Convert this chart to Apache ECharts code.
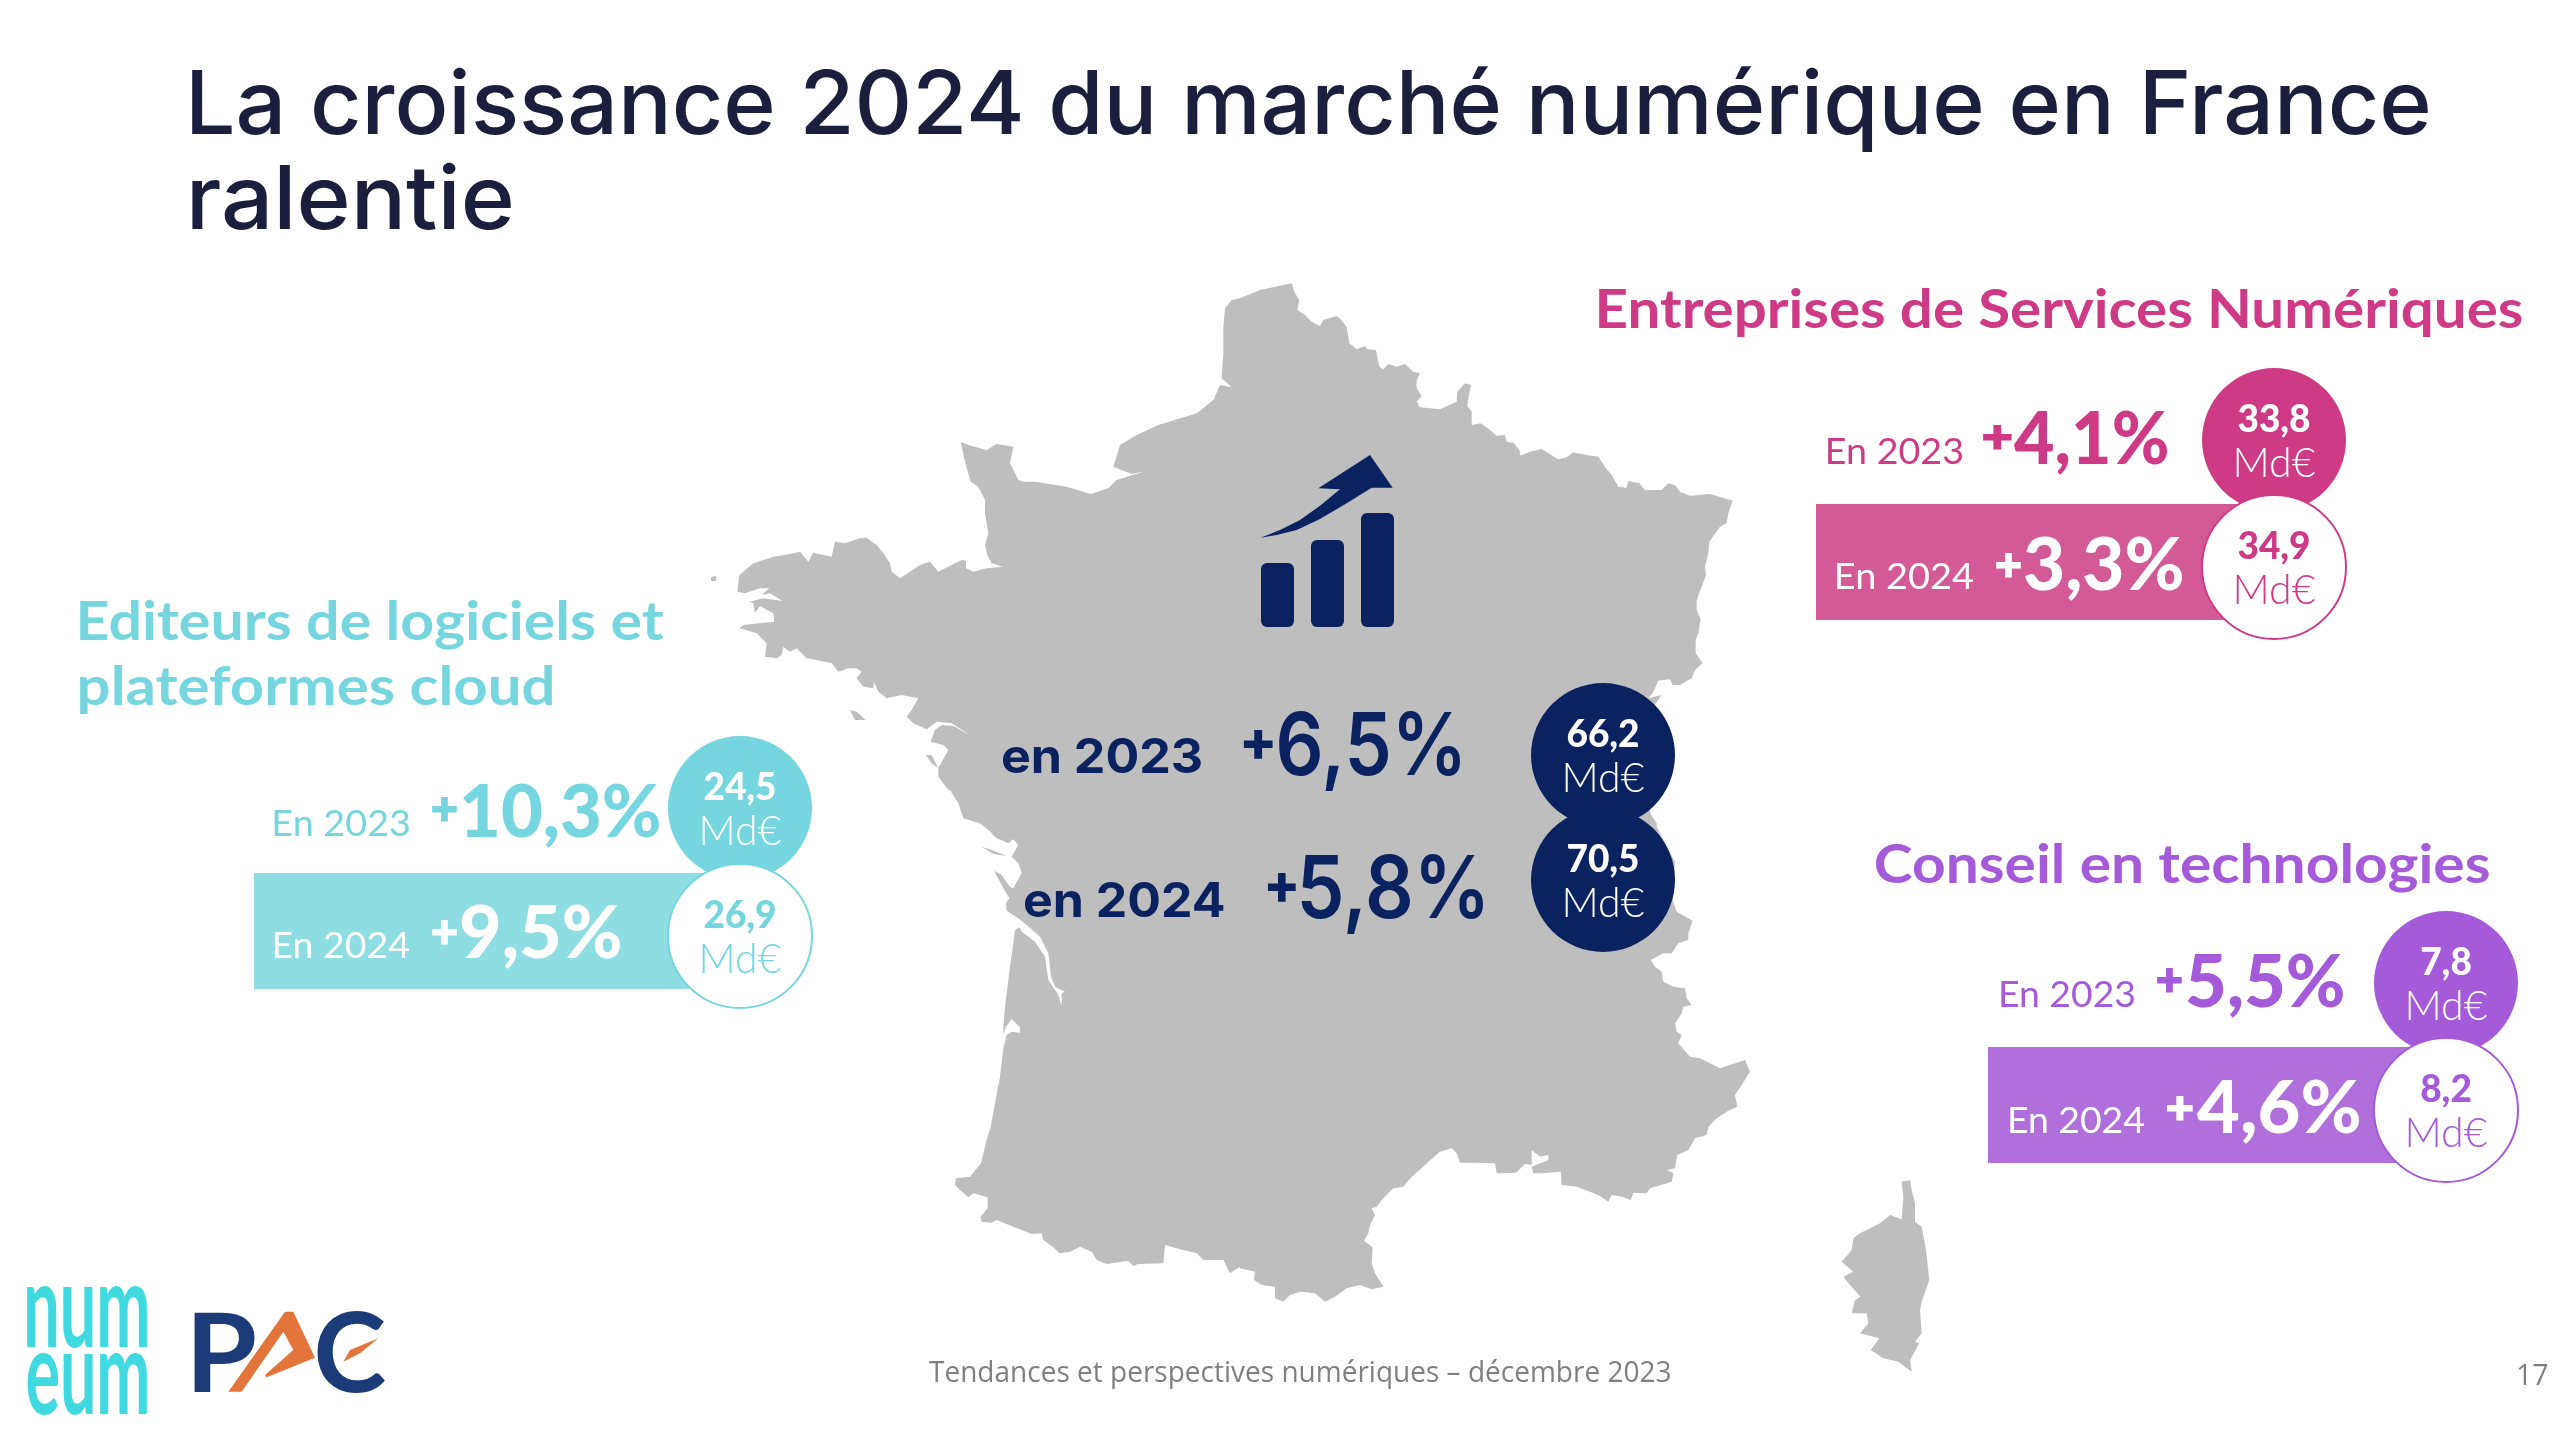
<!DOCTYPE html>
<html lang="fr"><head><meta charset="utf-8"><title>Marché numérique France 2024</title>
<style>html,body{margin:0;padding:0;background:#fff}#c{width:2560px;height:1431px}</style>
<script src="https://cdn.jsdelivr.net/npm/echarts@6/dist/echarts.min.js"></script></head>
<body><div id="c"></div><script>
// ---------- values ----------
const pageTitle = ['La croissance 2024 du marché numérique en France', 'ralentie'];
const segmentTitles = [['Editeurs de logiciels et', 'plateformes cloud'], ['Entreprises de Services Numériques'], ['Conseil en technologies']];
const growth2023 = [10.3, 4.1, 5.5];
const growth2024 = [9.5, 3.3, 4.6];
const amount2023 = [24.5, 33.8, 7.8];
const amount2024 = [26.9, 34.9, 8.2];
const totalGrowth = [6.5, 5.8];
const totalAmount = [66.2, 70.5];
const yearLabels = ['En 2023', 'En 2024'];
const totalYearLabels = ['en 2023', 'en 2024'];
const unitLabel = 'Md€';
const footerText = 'Tendances et perspectives numériques – décembre 2023';
const pageNumber = '17';

// ---------- France outline (quadrant crops, 3x) ----------
const coastNE = [[0,85],[60,60],[155,40],[165,70],[178,90],[172,120],[195,135],[215,155],[240,168],[250,150],[290,138],[305,150],[320,172],[328,220],[350,238],[375,228],[382,238],[408,240],[418,290],[430,298],[445,282],[470,290],[495,282],[520,305],[540,310],[530,330],[530,355],[545,378],[530,395],[540,412],[600,418],[650,395],[652,365],[675,340],[693,345],[685,385],[682,408],[695,425],[695,465],[722,460],[750,480],[770,497],[795,495],[800,515],[820,518],[838,540],[842,557],[870,545],[905,537],[925,550],[955,568],[980,562],[1000,547],[1040,555],[1075,560],[1095,590],[1115,615],[1135,650],[1160,653],[1165,633],[1198,640],[1215,660],[1265,660],[1285,640],[1305,645],[1320,665],[1350,677],[1410,672],[1478,692],[1465,730],[1460,760],[1440,770],[1408,815],[1405,850],[1395,890],[1398,915],[1385,950],[1370,990],[1370,1020],[1382,1048],[1375,1090],[1367,1110],[1367,1150],[1388,1180],[1365,1200],[1355,1225],[1320,1245],[1298,1245],[1290,1228],[1255,1232],[1240,1265],[1225,1285],[1265,1275],[1240,1310],[1235,1400]];
const coastSE = [[1230,70],[1250,100],[1250,110],[1290,190],[1305,215],[1298,330],[1310,365],[1358,392],[1345,430],[1345,450],[1315,460],[1295,490],[1270,490],[1232,510],[1245,530],[1265,545],[1270,575],[1300,590],[1335,595],[1340,625],[1355,645],[1330,650],[1325,670],[1305,700],[1310,725],[1325,735],[1315,760],[1350,800],[1380,805],[1440,835],[1515,810],[1530,845],[1505,885],[1485,915],[1492,950],[1465,962],[1430,985],[1405,1010],[1400,1035],[1365,1045],[1345,1080],[1312,1095],[1305,1135],[1280,1140],[1300,1150],[1295,1175],[1230,1195],[1220,1210],[1180,1208],[1172,1230],[1145,1220],[1115,1215],[1105,1235],[1080,1218],[1050,1205],[1010,1190],[965,1185],[962,1145],[905,1150],[880,1150],[875,1130],[925,1110],[925,1095],[900,1100],[875,1080],[875,1125],[855,1122],[828,1148],[770,1150],[765,1120],[700,1118],[660,1118],[650,1090],[635,1075],[600,1085],[565,1115],[545,1135],[515,1160],[490,1190],[460,1195],[430,1225],[410,1250],[395,1255],[405,1275],[390,1305],[385,1330],[372,1352],[398,1372],[395,1420],[405,1450],[430,1490],[395,1498],[360,1485],[320,1495],[285,1520],[255,1535],[225,1510],[180,1505],[150,1515],[130,1535],[105,1525],[105,1490],[65,1485],[42,1470],[45,1445],[0,1435]];
const coastSW = [[1560,1430],[1530,1450],[1510,1410],[1450,1410],[1430,1390],[1380,1378],[1335,1365],[1330,1420],[1255,1422],[1240,1428],[1225,1412],[1160,1422],[1130,1410],[1115,1385],[1080,1370],[1050,1385],[1018,1390],[1000,1372],[970,1350],[965,1330],[935,1332],[880,1310],[830,1290],[815,1298],[785,1295],[782,1280],[803,1255],[803,1222],[760,1210],[745,1222],[720,1200],[705,1185],[708,1165],[750,1160],[783,1120],[800,1050],[812,1010],[840,860],[850,775],[860,735],[875,725],[900,728],[900,712],[875,688],[858,710],[848,735],[855,650],[870,530],[882,445],[885,420],[900,412],[905,425],[945,455],[975,500],[985,570],[1015,615],[1025,648],[1025,610],[1035,605],[1005,590],[993,560],[985,490],[960,440],[920,405],[895,385],[860,362],[858,340],[868,325],[845,285],[822,242],[845,255],[870,290],[880,295],[905,250],[895,220],[875,200],[895,165],[880,148],[865,160],[830,145],[805,120],[780,100],[730,85],[715,40],[690,0]];
const coastNW = [[685,1560],[655,1520],[655,1495],[685,1440],[670,1425],[632,1415],[645,1380],[665,1365],[700,1368],[750,1395],[695,1360],[650,1355],[620,1378],[580,1360],[560,1340],[575,1320],[595,1285],[545,1275],[500,1285],[475,1265],[462,1235],[460,1255],[430,1250],[410,1225],[425,1205],[410,1195],[385,1195],[355,1205],[335,1180],[280,1168],[260,1165],[230,1135],[210,1145],[190,1130],[185,1155],[170,1165],[135,1160],[140,1120],[110,1090],[58,1075],[70,1065],[163,1055],[160,1030],[120,1008],[105,1028],[100,1000],[88,995],[130,985],[188,993],[150,970],[125,975],[148,955],[120,955],[75,970],[52,965],[58,915],[100,880],[160,860],[195,855],[240,845],[265,875],[280,848],[335,860],[345,815],[375,820],[420,805],[440,803],[470,825],[490,850],[510,880],[515,905],[540,925],[570,905],[600,885],[630,875],[655,905],[695,885],[725,870],[738,872],[738,895],[760,905],[800,895],[848,890],[815,880],[802,855],[795,825],[805,790],[795,730],[795,690],[775,650],[752,635],[735,575],[722,515],[745,525],[800,540],[830,522],[880,530],[870,580],[895,630],[910,635],[945,635],[1040,650],[1112,672],[1165,655],[1190,630],[1270,605],[1235,612],[1180,590],[1200,525],[1250,495],[1315,465],[1430,430],[1480,390],[1500,345],[1535,352],[1505,325],[1510,250],[1510,170],[1515,115],[1535,90],[1560,85]];
const corsica = [[245,35],[270,30],[275,60],[285,100],[285,155],[305,170],[318,240],[328,330],[305,395],[300,420],[305,490],[285,515],[298,520],[270,570],[275,605],[235,575],[190,565],[152,540],[178,505],[120,490],[145,460],[140,430],[95,430],[105,390],[122,380],[90,345],[70,320],[100,305],[65,275],[95,240],[100,205],[120,190],[180,160],[210,135],[245,148],[250,80]];
const belleIle = [[390,1320],[410,1325],[437,1350],[405,1350]];
const noirmoutier = [[617,1455],[635,1455],[655,1495],[635,1480]];
const ile_de_re = [[785,170],[815,180],[860,198],[820,192]];
const ouessant = [[711,577],[716,576],[716,581],[711,581]];

const fromCrop = (pts, ox, oy) => pts.map(p => [ox + p[0] / 3, -(oy + p[1] / 3)]);
const franceGeo = { type: 'FeatureCollection', features: [{ type: 'Feature', properties: { name: 'France' }, geometry: { type: 'MultiPolygon', coordinates: [
  [[...fromCrop(coastNE, 1240, 270), ...fromCrop(coastSE, 1240, 790), ...fromCrop(coastSW, 720, 790), ...fromCrop(coastNW, 720, 270)]],
  [fromCrop(corsica, 1820, 1170)], [fromCrop(belleIle, 720, 270)], [fromCrop(noirmoutier, 720, 270)],
  [fromCrop(ile_de_re, 720, 790)], [ouessant.map(p => [p[0], -p[1]])]
] } }] };
echarts.registerMap('france', franceGeo);

// ---------- layout & style ----------
const W = 2560, H = 1431;
const navy = '#0B2260', titleInk = '#1B1F3D';
const segColor = ['#76D6DF', '#CF3A87', '#A55AD9'];
const bandColor = ['#8EDDE3', '#D45A97', '#B16FDC'];
const circleX = [740, 2274, 2446], circleY23 = [808, 440, 983], circleY24 = [936, 567, 1110];
const totalCircleX = 1603, totalCircleY = [755, 880];
const bandBox = [[254, 873, 989], [1816, 504, 620], [1988, 1047, 1163]];
const titleBox = [[[80, 664, 640], [80, 552, 705]], [[1599, 2522, 328]], [[1876, 2489, 883]]];
const yearBox23 = [[274.5, 409, 836], [1828, 1962, 464], [2001, 2134, 1007]];
const yearBox24 = [[274.5, 409, 958], [1837, 1973, 589], [2010, 2144, 1133]];
const plusBox23 = [[432, 457, 809], [1983, 2012, 437], [2157, 2182, 980]];
const plusBox24 = [[432, 457, 932], [1996, 2021, 565], [2167, 2193, 1108]];
const rateBox23 = [[463, 659, 837], [2014, 2167, 464], [2187, 2343, 1007]];
const rateBox24 = [[461, 620, 958], [2025, 2182, 590], [2197, 2359, 1133]];
const totalYearBox = [[1002, 1201, 773], [1024, 1224, 917]];
const totalPlusBox = [[1243, 1273, 744], [1267, 1296, 887]];
const totalRateBox = [[1279, 1460, 775], [1301, 1483, 918]];

const fmt = v => v.toFixed(1).replace('.', ',');
const ctx = document.createElement('canvas').getContext('2d');
function ink(text, font) {
  ctx.font = font; ctx.textBaseline = 'middle'; ctx.textAlign = 'left';
  const m = ctx.measureText(text);
  return { l: -m.actualBoundingBoxLeft, r: m.actualBoundingBoxRight, a: m.actualBoundingBoxAscent, d: m.actualBoundingBoxDescent };
}
function baseOffset(font) { ctx.font = font; ctx.textBaseline = 'middle'; return ctx.measureText('H').actualBoundingBoxDescent; }
const textEl = (text, font, fill, x, y, sx, sy) => ({ type: 'text', z: 100, x, y, scaleX: sx, scaleY: sy || 1, silent: true,
  style: { text, font, fill, x: 0, y: 0, textAlign: 'left', verticalAlign: 'middle' } });
// text stretched to the reference's ink width, standing on a baseline
function fit(text, font, fill, box) {
  const i = ink(text, font), s = (box[1] - box[0]) / (i.r - i.l);
  return textEl(text, font, fill, box[0] - i.l * s, box[2] - baseOffset(font), s);
}
// raised plus sign, centred on a height
function plus(font, fill, box) {
  const i = ink('+', font), s = (box[1] - box[0]) / (i.r - i.l);
  return textEl('+', font, fill, box[0] - i.l * s, box[2] - (i.d - i.a) / 2, s);
}
// text stretched into a box on both axes (logos)
function boxed(text, font, fill, x0, x1, y0, y1) {
  const i = ink(text, font), sx = (x1 - x0) / (i.r - i.l), sy = (y1 - y0) / (i.a + i.d);
  return textEl(text, font, fill, x0 - i.l * sx, y0 + i.a * sy, sx, sy);
}
const crop = (pts, ox, oy) => pts.map(p => [ox + p[0] / 3, oy + p[1] / 3]);

const F = { title: '500 88px Inter', seg: '700 53px Lato', year: '400 36px Lato', rate: '900 72px Lato', plus: '800 48px Inter',
  tyear: '700 48px Inter', trate: '600 86px Inter', tplus: '800 56px Inter', foot: '400 29px "Open Sans"' };

const gfx = [];
// page title & footer
gfx.push(fit(pageTitle[0], F.title, titleInk, [192, 2428, 134]));
gfx.push(fit(pageTitle[1], F.title, titleInk, [192, 511, 229]));
gfx.push(fit(footerText, F.foot, '#7F7F7F', [929, 1670, 1382]));
gfx.push(fit(pageNumber, F.foot, '#7F7F7F', [2518, 2548, 1385]));
// segments
segmentTitles.forEach((lines, s) => {
  lines.forEach((t, k) => gfx.push(fit(t, F.seg, segColor[s], titleBox[s][k])));
  gfx.push({ type: 'rect', z: 1, silent: true, shape: { x: bandBox[s][0], y: bandBox[s][1], width: circleX[s] - bandBox[s][0], height: bandBox[s][2] - bandBox[s][1] }, style: { fill: bandColor[s] } });
  gfx.push(fit(yearLabels[0], F.year, segColor[s], yearBox23[s]));
  gfx.push(fit(yearLabels[1], F.year, '#fff', yearBox24[s]));
  gfx.push(plus(F.plus, segColor[s], plusBox23[s]));
  gfx.push(plus(F.plus, '#fff', plusBox24[s]));
  gfx.push(fit(fmt(growth2023[s]) + '%', F.rate, segColor[s], rateBox23[s]));
  gfx.push(fit(fmt(growth2024[s]) + '%', F.rate, '#fff', rateBox24[s]));
});
// national totals
totalGrowth.forEach((g, k) => {
  gfx.push(fit(totalYearLabels[k], F.tyear, navy, totalYearBox[k]));
  gfx.push(plus(F.tplus, navy, totalPlusBox[k]));
  gfx.push(fit(fmt(g) + '%', F.trate, navy, totalRateBox[k]));
});
// growth icon
[[1261, 563], [1311, 540], [1361, 513]].forEach(b => gfx.push({ type: 'rect', z: 50, silent: true, shape: { x: b[0], y: b[1], width: 33, height: 627 - b[1], r: 6 }, style: { fill: navy } }));
gfx.push({ type: 'polygon', z: 50, silent: true, shape: { points: crop([[62,293],[120,270],[180,240],[240,197],[300,148],[235,145],[390,45],[458,143],[395,143],[320,190],[240,237],[170,270],[110,285]], 1240, 440) }, style: { fill: navy } });
// logos
const logoCyan = '#3FD9E0', logoBlue = '#1B3C78', logoOrange = '#E3753B';
gfx.push(boxed('num', '700 120px Lato', logoCyan, 27, 147, 1286, 1348));
gfx.push(boxed('eum', '700 120px Lato', logoCyan, 27, 147, 1353, 1415));
gfx.push(boxed('P', '700 120px Lato', logoBlue, 194, 255, 1312, 1392));
gfx.push(boxed('C', '700 120px Lato', logoBlue, 317, 385, 1311, 1393));
gfx.push({ type: 'polygon', z: 101, silent: true, shape: { points: crop([[685,395],[855,155],[880,155],[945,293],[800,352],[795,345],[880,270],[850,215],[725,395]], 0, 1260) }, style: { fill: logoOrange } });
gfx.push({ type: 'polygon', z: 101, silent: true, shape: { points: crop([[1030,305],[1050,270],[1135,235],[1080,280]], 0, 1260) }, style: { fill: logoOrange } });

// amount bubbles
function bubble(x, y, amount, fill, ink_, stroke) {
  return { value: [x, -y, amount],
    itemStyle: { color: fill, opacity: 1, borderColor: stroke || fill, borderWidth: stroke ? 2 : 0 },
    label: { show: true, position: 'inside', offset: [0, 2], formatter: '{a|' + fmt(amount) + '}\n{b|' + unitLabel + '}',
      rich: { a: { fontFamily: 'Lato', fontWeight: 900, fontSize: 37, color: ink_, lineHeight: 43, align: 'center' },
              b: { fontFamily: 'Lato', fontWeight: 300, fontSize: 41, color: ink_, lineHeight: 43, align: 'center' } } } };
}
const bubbles23 = amount2023.map((a, s) => bubble(circleX[s], circleY23[s], a, segColor[s], '#fff'));
bubbles23.push(bubble(totalCircleX, totalCircleY[0], totalAmount[0], navy, '#fff'));
const bubbles24 = amount2024.map((a, s) => bubble(circleX[s], circleY24[s], a, '#fff', segColor[s], segColor[s]));
bubbles24.push(bubble(totalCircleX, totalCircleY[1], totalAmount[1], navy, '#fff'));

const chart = echarts.init(document.getElementById('c'), null, { renderer: 'canvas', width: W, height: H });
chart.setOption({
  animation: false, backgroundColor: '#fff',
  geo: { map: 'france', roam: false, silent: true, left: 0, top: 0, width: W, height: H, aspectScale: 1,
    boundingCoords: [[0, 0], [W, -H]], label: { show: false }, emphasis: { disabled: true },
    itemStyle: { areaColor: '#BEBEBE', borderWidth: 0 } },
  series: [
    { name: '2023', type: 'scatter', coordinateSystem: 'geo', symbol: 'circle', symbolSize: 144, z: 3, silent: true, itemStyle: { opacity: 1 }, data: bubbles23 },
    { name: '2024', type: 'scatter', coordinateSystem: 'geo', symbol: 'circle', symbolSize: 144, z: 4, silent: true, itemStyle: { opacity: 1 }, data: bubbles24 }
  ],
  graphic: { elements: gfx }
});
</script></body></html>
